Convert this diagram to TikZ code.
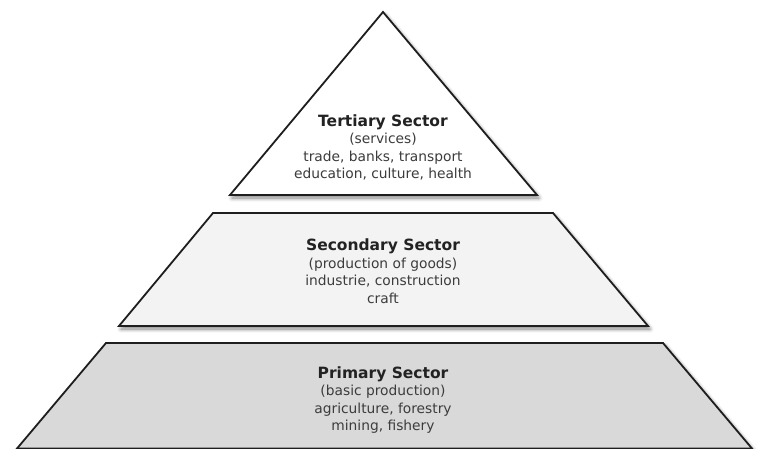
\documentclass[tikz,border=0pt]{standalone}
\usepackage{fontspec}
\setmainfont{DejaVu Sans}
\usetikzlibrary{shadows.blur}
\definecolor{edge}{HTML}{1E1E1E}
\definecolor{txt}{HTML}{3C3C3C}
\definecolor{ttl}{HTML}{222222}
\definecolor{fillsec}{HTML}{F3F3F3}
\definecolor{fillprim}{HTML}{D9D9D9}
\begin{document}
\begin{tikzpicture}[x=1pt,y=-1pt,
  layer/.style={draw=edge, line width=1.8pt, line join=miter,
    blur shadow={shadow xshift=2pt, shadow yshift=-3pt, shadow blur steps=8, shadow blur radius=4pt, shadow opacity=50}},
  sectortext/.style={align=center, text=txt, inner sep=0pt, anchor=base,
    font=\fontsize{13.8}{17.4}\selectfont}]
\useasboundingbox (0,0) rectangle (760,449);
\newcommand{\sectortitle}[1]{{\fontsize{15.5}{17.4}\selectfont\bfseries\color{ttl}#1}}
% layers
\path[layer, fill=fillprim] (106,343) -- (663,343) -- (752,448.5) -- (17,448.5) -- cycle;
\path[layer, fill=fillsec] (213,213) -- (553,213) -- (648,326) -- (119,326) -- cycle;
\path[layer, fill=white] (383,12) -- (537,195) -- (230,195) -- cycle;
% texts (base anchor = baseline of the last line)
\node[sectortext] (tertiary) at (383,178.5)
  {\sectortitle{Tertiary Sector}\\(services)\\trade, banks, transport\\education, culture, health};
\node[sectortext] (secondary) at (383,303)
  {\sectortitle{Secondary Sector}\\(production of goods)\\industrie, construction\\craft};
\node[sectortext] (primary) at (383,430.5)
  {\sectortitle{Primary Sector}\\(basic production)\\agriculture, forestry\\mining, fishery};
\end{tikzpicture}
\end{document}
